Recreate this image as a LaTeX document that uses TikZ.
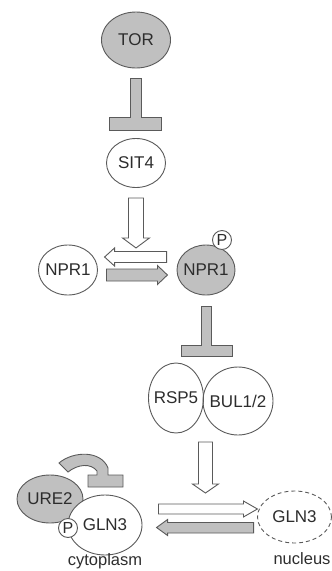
\documentclass[tikz,border=0pt]{standalone}
\usepackage{fontspec}
\setmainfont{Liberation Sans}
\usetikzlibrary{shapes.geometric,calc}
\definecolor{protgray}{RGB}{192,192,192}
\definecolor{linegray}{RGB}{90,90,90}
\definecolor{textgray}{RGB}{45,45,45}
\tikzset{
  prot/.style={ellipse, draw=linegray, line width=0.9pt, fill=white, inner sep=-6pt,
    text=textgray, font=\fontsize{17}{19}\selectfont},
  active/.style={prot, fill=protgray},
  phos/.style={circle, draw=linegray, line width=0.9pt, fill=white, inner sep=0pt,
    minimum size=19pt, text=textgray, font=\fontsize{16}{18}\selectfont},
  openarrow/.style={draw=linegray, line width=0.9pt, fill=white},
  fillarrow/.style={draw=linegray, line width=0.9pt, fill=protgray},
  place/.style={text=textgray, inner sep=1pt, font=\fontsize{16.5}{18}\selectfont},
}
\begin{document}
\begin{tikzpicture}[x=1pt,y=-1pt]
\useasboundingbox (0,0) rectangle (332,571);
% TOR
\node[active, minimum width=69pt, minimum height=56pt] (tor) at (136,40) {TOR};
% SIT4
\node[prot, minimum width=59pt, minimum height=49pt] (sit4) at (136,163) {SIT4};
% TOR inhibe SIT4
\draw[fillarrow] ($(tor.south)+(-5.5,10)$) -- ++(11,0) -- ++(0,39) -- ++(20,0)
  -- ++(0,13) -- ++(-52,0) -- ++(0,-13) -- ++(21,0) -- cycle;
% NPR1 libre et NPR1 phosphoryle
\node[prot, minimum width=59pt, minimum height=50pt] (npr1) at (68,270) {NPR1};
\node[active, minimum width=58pt, minimum height=50pt] (npr1p) at (206,270) {NPR1};
\node[phos] (pa) at (222,240) {P};
% SIT4 vers l'equilibre
\draw[openarrow] ($(sit4.south)+(-7.5,10)$) -- ++(15,0) -- ++(0,40) -- ++(6,0)
  -- ++(-13.5,10) -- ++(-13.5,-10) -- ++(6,0) -- cycle;
% Dephosphorylation
\draw[openarrow] ($(npr1p.west)+(-10,-18.5)$) -- ++(0,11) -- ++(-52,0) -- ++(0,3.5)
  -- ++(-10,-9) -- ++(10,-9) -- ++(0,3.5) -- cycle;
% Phosphorylation
\draw[fillarrow] ($(npr1.east)+(8.5,-1)$) -- ++(51,0) -- ++(0,-3.5) -- ++(10,9.5)
  -- ++(-10,9.5) -- ++(0,-3.5) -- ++(-51,0) -- cycle;
% NPR1 inhibe RSP5/BUL
\draw[fillarrow] ($(npr1p.south)+(-4.5,11)$) -- ++(10,0) -- ++(0,39) -- ++(20.5,0)
  -- ++(0,11) -- ++(-51,0) -- ++(0,-11) -- ++(20.5,0) -- cycle;
% Complexe RSP5 BUL1/2
\node[prot, fill=none, minimum width=55pt, minimum height=70pt] (rsp5) at (176,398) {RSP5};
\node[prot, fill=none, minimum width=70pt, minimum height=68pt] (bul) at (238,401) {BUL1/2};
% Vers la translocation
\draw[openarrow] ($(rsp5.east)+(-5.5,44)$) -- ++(14,0) -- ++(0,42) -- ++(6,0)
  -- ++(-13,9) -- ++(-13,-9) -- ++(6,0) -- cycle;
% URE2 retient GLN3
\node[active, minimum width=66pt, minimum height=48pt] (ure2) at (50,499) {URE2};
\node[prot, minimum width=74pt, minimum height=60pt] (gln3c) at (105,525) {GLN3};
\node[phos] (pb) at (68,528) {P};
\draw[fillarrow] (59,463) .. controls (73,451) and (101,450) .. (108,468) -- (108,475)
  -- (123,475) -- (123,487) -- (88,487) -- (88,475) -- (97,475) -- (97,471)
  .. controls (91,463) and (78,464) .. (68,472) -- cycle;
% GLN3 dans le noyau
\node[prot, dashed, dash pattern=on 4pt off 3pt, minimum width=74pt, minimum height=52pt] (gln3n) at (294.5,517) {GLN3};
% Import
\draw[openarrow] ($(gln3c.east)+(16,-21)$) -- ++(85,0) -- ++(0,-3) -- ++(14,8)
  -- ++(-14,8) -- ++(0,-3) -- ++(-85,0) -- cycle;
% Export
\draw[fillarrow] ($(gln3n.west)+(-3.5,5.5)$) -- ++(0,10.5) -- ++(-86,0) -- ++(0,2.5)
  -- ++(-11,-8) -- ++(11,-8) -- ++(0,3) -- cycle;
% Compartiments
\node[place] (cyto) at (105,561) {cytoplasm};
\node[place] (nuc) at (302,559) {nucleus};
\end{tikzpicture}
\end{document}
